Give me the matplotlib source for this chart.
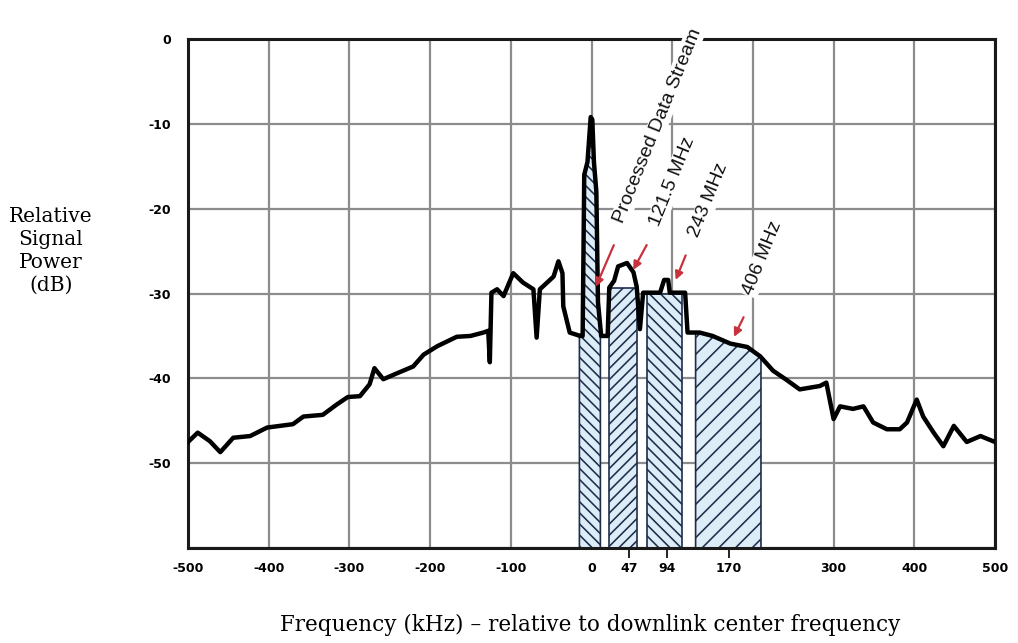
import matplotlib
matplotlib.use("Agg")
import matplotlib.pyplot as plt
import numpy as np

# Trace (kHz, dB)
freq = np.array([-500, -488, -473, -460, -444, -423, -402, -386, -370, -357,
                 -333, -316, -302, -287, -275, -269, -258, -241, -221, -208,
                 -191, -167, -150, -134, -128, -126, -124, -117, -109, -97,
                 -85, -72, -68, -64, -47, -41, -36, -35, -27, -14,
                 -11, -9, -5, -1, 1, 3, 6, 8, 12, 20,
                 22, 28, 33, 44, 52, 56, 60, 64, 85, 90,
                 95, 97, 116, 119, 134, 150, 172, 193, 209, 225,
                 242, 258, 283, 291, 300, 308, 324, 337, 349, 366,
                 382, 391, 403, 411, 424, 436, 449, 465, 482, 500])
power = np.array([-47.5, -46.4, -47.4, -48.7, -47.0, -46.8, -45.8, -45.6, -45.4, -44.5,
                  -44.3, -43.1, -42.2, -42.1, -40.7, -38.8, -40.1, -39.4, -38.6, -37.2,
                  -36.2, -35.1, -35.0, -34.6, -34.4, -38.1, -29.9, -29.5, -30.3, -27.6,
                  -28.7, -29.5, -35.2, -29.5, -28.0, -26.2, -27.6, -31.5, -34.6, -35.0,
                  -35.0, -16.0, -14.5, -9.2, -9.5, -14.5, -18.0, -31.0, -35.0, -35.0,
                  -29.3, -28.5, -26.8, -26.4, -27.5, -29.2, -34.2, -29.9, -29.9, -28.4,
                  -28.4, -29.9, -29.9, -34.6, -34.6, -35.0, -35.9, -36.3, -37.4, -39.1,
                  -40.2, -41.3, -40.9, -40.5, -44.8, -43.3, -43.6, -43.3, -45.2, -46.0,
                  -46.0, -45.2, -42.5, -44.5, -46.4, -48.0, -45.6, -47.5, -46.8, -47.5])

# Hatched channel bands (nan top = follows the trace)
box_lo = [-15, 22, 69, 129]
box_hi = [11, 56, 112, 210]
box_top = [np.nan, -29.3, -30.0, np.nan]

# Annotations: label, arrow tip, arrow tail, text centre
ann_labels = ["Processed Data Stream", "121.5 MHz", "243 MHz", "406 MHz"]
ann_tip = [(4, -29.5), (50, -27.5), (103, -28.7), (175, -35.4)]
ann_tail = [(29, -24.0), (70, -24.0), (118, -25.2), (190, -32.5)]
ann_text = [(82, -10.2), (100, -16.8), (145, -19.0), (212, -25.8)]

xtick_major = [-500, -400, -300, -200, -100, 0, 100, 200, 300, 400, 500]
xtick_major_labels = ["-500", "-400", "-300", "-200", "-100", "0", "", "", "300", "400", "500"]
xtick_minor = [0, 47, 94, 170]
xtick_minor_labels = ["", "47", "94", "170"]
yticks = [0, -10, -20, -30, -40, -50, -60]
ytick_labels = ["0", "-10", "-20", "-30", "-40", "-50", ""]

plt.rcParams["hatch.linewidth"] = 1.15

fig = plt.figure(figsize=(10.18, 6.43), dpi=100)
ax = fig.add_axes([0.1847, 0.1477, 0.7927, 0.7916])

hatches = ["\\\\\\", "///", "\\\\\\", "//"]
for lo, hi, top, h in zip(box_lo, box_hi, box_top, hatches):
    if np.isnan(top):
        xs = np.concatenate([[lo], freq[(freq > lo) & (freq < hi)], [hi]])
        ys = np.interp(xs, freq, power)
    else:
        xs = np.array([lo, hi])
        ys = np.array([top, top])
    ax.fill_between(xs, -60, ys, facecolor="#dcedf8", edgecolor="#1e2d4a",
                    hatch=h, linewidth=1.2, zorder=2)

ax.plot(freq, power, color="black", linewidth=3.2, zorder=4)

for lab, tip, tail, txt in zip(ann_labels, ann_tip, ann_tail, ann_text):
    ax.annotate("", xy=tip, xytext=tail,
                arrowprops=dict(arrowstyle="-|>", color="#c8323c", lw=1.6,
                                mutation_scale=12), zorder=6)
    ax.text(txt[0], txt[1], lab, rotation=68, ha="center", va="center",
            fontsize=14, family="Liberation Sans", color="#111111",
            bbox=dict(facecolor="white", edgecolor="none", pad=1), zorder=5)

ax.set_xlim(-500, 500)
ax.set_ylim(-60, 0)
ax.set_xticks(xtick_major)
ax.set_xticklabels(xtick_major_labels)
ax.set_xticks(xtick_minor, minor=True)
ax.set_xticklabels(xtick_minor_labels, minor=True)
ax.set_yticks(yticks)
ax.set_yticklabels(ytick_labels)
ax.tick_params(axis="x", which="major", length=0, pad=10, labelsize=9)
ax.tick_params(axis="x", which="minor", length=7, width=1.2, pad=3, labelsize=9)
ax.tick_params(axis="y", length=0, pad=12, labelsize=9)
for lab in ax.get_xticklabels() + ax.get_xticklabels(minor=True) + ax.get_yticklabels():
    lab.set_fontweight("bold")

ax.grid(True, which="major", color="#8c8c8c", linewidth=1.6, zorder=0)
ax.set_axisbelow(True)
for s in ax.spines.values():
    s.set_linewidth(2.2)
    s.set_color("#1a1a1a")

fig.text(0.05, 0.61, "Relative\nSignal\nPower\n(dB)", ha="center", va="center",
         fontsize=14.5, family="DejaVu Serif", linespacing=1.25)
fig.text(0.58, 0.028, "Frequency (kHz) \u2013 relative to downlink center frequency",
         ha="center", va="center", fontsize=15.5, family="DejaVu Serif")

fig.savefig("out.png", dpi=100)
